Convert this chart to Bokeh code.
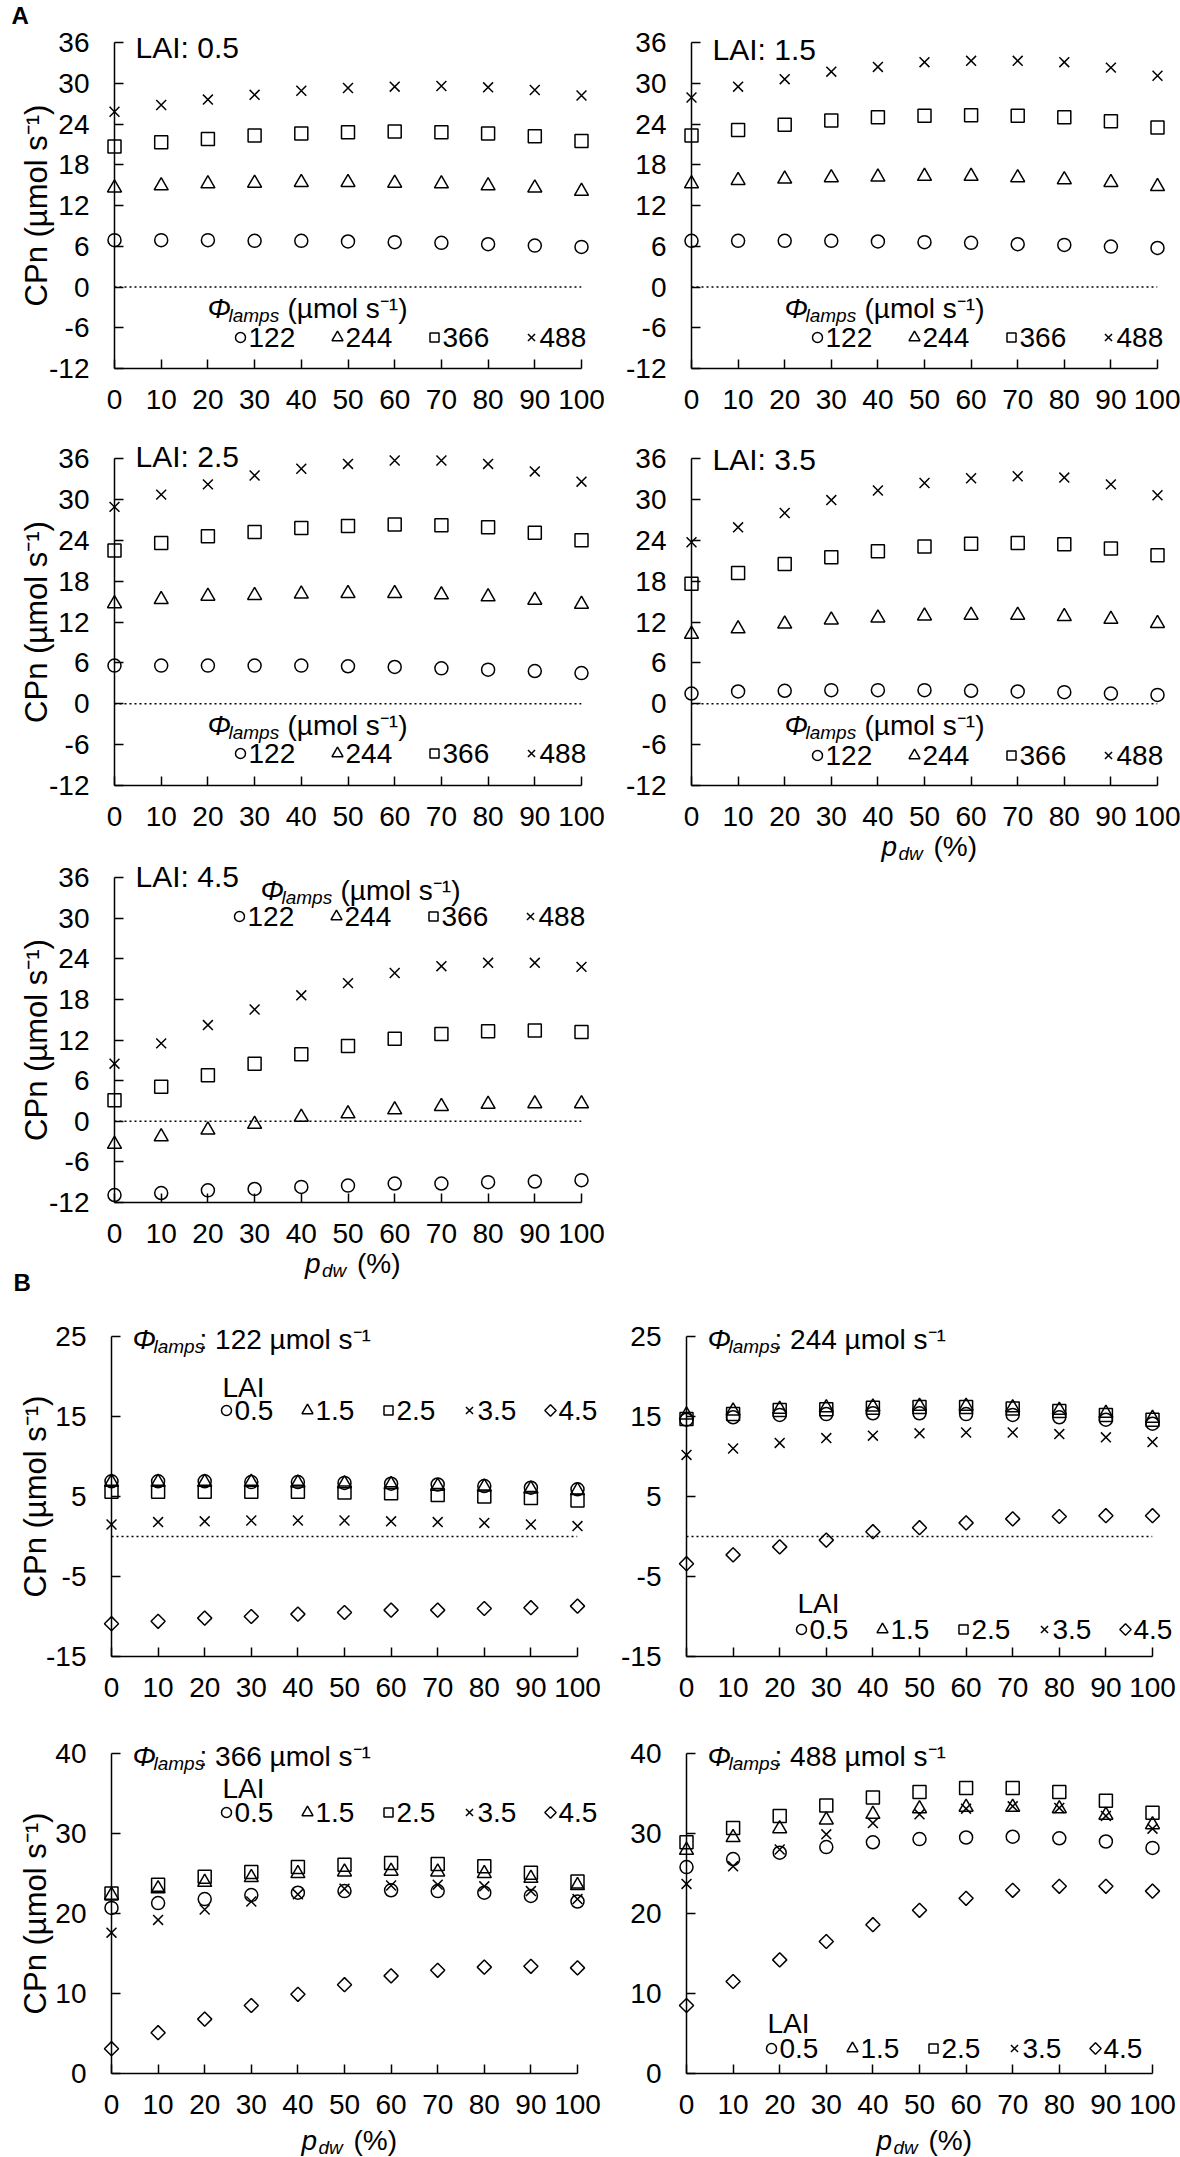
import math
from bokeh.plotting import figure
from bokeh.models import Range1d, FixedTicker, Span
from bokeh.layouts import column, row
from bokeh.core.properties import value
from bokeh.embed import file_html
from bokeh.resources import INLINE

FONT = "Liberation Sans"

# ---------------- data ----------------
p_dw = [0, 10, 20, 30, 40, 50, 60, 70, 80, 90, 100]

lamp_labels = ["122", "244", "366", "488"]
lai_labels = ["0.5", "1.5", "2.5", "3.5", "4.5"]

# CPn (umol s-1) for each LAI and lamp flux
c05_122 = [6.9, 6.9, 6.9, 6.8, 6.8, 6.7, 6.6, 6.5, 6.3, 6.1, 5.9]
c05_244 = [14.6, 14.9, 15.2, 15.3, 15.4, 15.4, 15.3, 15.2, 14.9, 14.6, 14.1]
c05_366 = [20.7, 21.3, 21.8, 22.3, 22.6, 22.8, 22.9, 22.8, 22.6, 22.2, 21.5]
c05_488 = [25.8, 26.8, 27.6, 28.3, 28.9, 29.3, 29.5, 29.6, 29.4, 29.0, 28.2]

c15_122 = [6.8, 6.8, 6.8, 6.8, 6.7, 6.6, 6.5, 6.3, 6.2, 5.95, 5.75]
c15_244 = [15.2, 15.7, 15.9, 16.1, 16.2, 16.3, 16.3, 16.1, 15.8, 15.4, 14.8]
c15_366 = [22.3, 23.1, 23.9, 24.5, 25.0, 25.2, 25.3, 25.2, 25.0, 24.4, 23.5]
c15_488 = [27.9, 29.5, 30.6, 31.7, 32.4, 33.1, 33.3, 33.3, 33.1, 32.3, 31.1]

c25_122 = [5.6, 5.6, 5.6, 5.6, 5.6, 5.5, 5.4, 5.2, 5.0, 4.8, 4.5]
c25_244 = [14.7, 15.3, 15.8, 15.9, 16.1, 16.2, 16.2, 16.0, 15.7, 15.2, 14.6]
c25_366 = [22.5, 23.6, 24.6, 25.2, 25.8, 26.1, 26.3, 26.2, 25.9, 25.1, 24.0]
c25_488 = [28.9, 30.7, 32.2, 33.5, 34.5, 35.2, 35.7, 35.7, 35.2, 34.1, 32.6]

c35_122 = [1.5, 1.8, 1.9, 2.0, 2.0, 2.0, 1.9, 1.8, 1.7, 1.5, 1.3]
c35_244 = [10.2, 11.0, 11.7, 12.3, 12.6, 12.9, 13.0, 13.0, 12.8, 12.4, 11.8]
c35_366 = [17.6, 19.2, 20.5, 21.5, 22.4, 23.1, 23.5, 23.6, 23.4, 22.8, 21.8]
c35_488 = [23.7, 25.9, 28.0, 29.9, 31.3, 32.4, 33.1, 33.4, 33.2, 32.2, 30.6]

c45_122 = [-10.9, -10.6, -10.2, -10.0, -9.7, -9.5, -9.2, -9.2, -9.0, -8.9, -8.7]
c45_244 = [-3.4, -2.3, -1.3, -0.45, 0.6, 1.1, 1.7, 2.2, 2.5, 2.6, 2.6]
c45_366 = [3.1, 5.1, 6.8, 8.5, 9.9, 11.1, 12.2, 12.9, 13.3, 13.4, 13.2]
c45_488 = [8.5, 11.5, 14.2, 16.5, 18.6, 20.4, 21.9, 22.9, 23.4, 23.4, 22.8]

a_yticks = [-12, -6, 0, 6, 12, 18, 24, 30, 36]
b_top_yticks = [-15, -5, 5, 15, 25]
b_bot_yticks = [0, 10, 20, 30, 40]

by_lai = {
    "0.5": [c05_122, c05_244, c05_366, c05_488],
    "1.5": [c15_122, c15_244, c15_366, c15_488],
    "2.5": [c25_122, c25_244, c25_366, c25_488],
    "3.5": [c35_122, c35_244, c35_366, c35_488],
    "4.5": [c45_122, c45_244, c45_366, c45_488],
}

# ---------------- styling helpers ----------------
MK = [
    dict(marker="circle", size=13),
    dict(marker="triangle", size=14),
    dict(marker="square", size=13),
    dict(marker="x", size=14),
    dict(marker="square", size=10, angle=math.pi / 4),
]
MK_LEG = [
    dict(marker="circle", size=10),
    dict(marker="triangle", size=11),
    dict(marker="square", size=9),
    dict(marker="x", size=10),
    dict(marker="square", size=8, angle=math.pi / 4),
]


def make_panel(fw, fh, bl, br, bt, bb, yr, yticks):
    p = figure(width=bl + fw + br, height=bt + fh + bb,
               frame_width=fw, frame_height=fh,
               min_border_left=bl, min_border_right=br,
               min_border_top=bt, min_border_bottom=bb,
               x_range=Range1d(0, 100), y_range=Range1d(*yr),
               output_backend="svg", toolbar_location=None, tools="")
    p.outline_line_color = None
    p.grid.visible = False
    p.background_fill_color = "white"
    p.border_fill_color = "white"
    p.xaxis.ticker = FixedTicker(ticks=p_dw)
    p.yaxis.ticker = FixedTicker(ticks=yticks)
    p.xaxis.major_label_overrides = {t: str(t) for t in p_dw}
    p.yaxis.major_label_overrides = {t: str(t) for t in yticks}
    for ax in (p.xaxis[0], p.yaxis[0]):
        ax.major_tick_in = 9
        ax.major_tick_out = 0
        ax.minor_tick_line_color = None
        ax.axis_line_width = 1.5
        ax.axis_line_color = "black"
        ax.major_tick_line_width = 1.5
        ax.major_tick_line_color = "black"
        ax.major_label_text_font = FONT
        ax.major_label_text_font_size = "28px"
        ax.major_label_text_color = "black"
    p.xaxis.major_label_standoff = 21
    p.yaxis.major_label_standoff = 25
    return p


def frame_to_data(p, rx, ry):
    """frame-relative pixel position (x from left, y from bottom) -> data"""
    x0, x1 = p.x_range.start, p.x_range.end
    y0, y1 = p.y_range.start, p.y_range.end
    return (x0 + rx * (x1 - x0) / p.frame_width,
            y0 + ry * (y1 - y0) / p.frame_height)


def txt(p, rx, ry, s, size=28, style="normal", align="left",
        baseline="alphabetic", angle=0.0):
    # ry given as a baseline is converted to the text's middle
    if baseline == "alphabetic":
        ry = ry + 0.36 * size
    xc = (p.x_range.start + p.x_range.end) / 2
    yc = (p.y_range.start + p.y_range.end) / 2
    p.text(x=[xc], y=[yc], text=[s],
           x_offset=rx - p.frame_width / 2, y_offset=-(ry - p.frame_height / 2),
           text_font=value(FONT), text_font_size=value(f"{size}px"),
           text_font_style=style, text_align=align, text_baseline="middle",
           angle=angle, text_color="black", level="overlay")


def phi_title(p, x, y, rest, rest_dx):
    txt(p, x, y, "Φ", 28, "italic")
    txt(p, x + 21, y - 4, "lamps", 19, "italic")
    txt(p, x + rest_dx, y, rest, 28)


def pdw_label(p, y=-71):
    c = p.frame_width / 2
    txt(p, c - 43, y, "p", 28, "italic")
    txt(p, c - 26, y - 4, "dw", 19, "italic")
    txt(p, c + 9, y, "(%)", 28)


def ylab(p, dx=-78):
    txt(p, dx, p.frame_height / 2, "CPn (µmol s⁻¹)", 31, align="center",
        baseline="middle", angle=math.pi / 2)


def add_series(p, series, markers):
    for ys, mk in zip(series, markers):
        p.scatter(p_dw, ys, fill_color=None, line_color="black",
                  line_width=1.5, level="overlay", **mk)


def add_key(p, labels, markers, cx, cy, period):
    for i, (lab, mk) in enumerate(zip(labels, markers)):
        mx, my = frame_to_data(p, cx + i * period, cy)
        p.scatter([mx], [my], fill_color=None, line_color="black",
                  line_width=1.5, level="overlay", **mk)
        txt(p, cx + i * period + 8, cy, lab, 28, baseline="middle")


def zero_line(p):
    p.add_layout(Span(location=0, dimension="width", line_color="black",
                      line_width=1.5, line_dash="2 3"))


# ---------------- panel A ----------------
LEFT = dict(bl=114, fw=467, br=31)
RIGHT = dict(bl=79, fw=466, br=23)

# (lai, column, borders top/frame/bottom, LAI-label drop, key row centre)
specs_a = [
    ("0.5", LEFT, dict(bt=42, fh=326, bb=62), 16, 31),
    ("1.5", RIGHT, dict(bt=42, fh=326, bb=62), 18, 31),
    ("2.5", LEFT, dict(bt=28, fh=327, bb=70), 9, 32),
    ("3.5", RIGHT, dict(bt=28, fh=327, bb=90), 12, 30),
    ("4.5", LEFT, dict(bt=22, fh=325, bb=98), 10, None),
]

panels_a = []
for lai, col, rw, lai_dy, row_c in specs_a:
    p = make_panel(col["fw"], rw["fh"], col["bl"], col["br"], rw["bt"], rw["bb"],
                   (-12, 36), a_yticks)
    zero_line(p)
    fh = rw["fh"]
    add_series(p, by_lai[lai], MK[:4])
    if row_c is None:  # key at the top (LAI 4.5)
        add_key(p, lamp_labels, MK_LEG[:4], 125, fh - 39, 97)
        phi_title(p, 146, fh - 23, "(µmol s⁻¹)", 80)
    else:
        add_key(p, lamp_labels, MK_LEG[:4], 126, row_c, 97)
        phi_title(p, 93, 50, "(µmol s⁻¹)", 80)
    txt(p, 21, fh - lai_dy, f"LAI: {lai}", 30)
    if col is LEFT:
        ylab(p)
    if lai in ("3.5", "4.5"):
        pdw_label(p)
    panels_a.append(p)

txt(panels_a[0], -103, 326 + 18, "A", 24, "bold")
txt(panels_a[4], -101, -89, "B", 24, "bold")

# ---------------- panel B ----------------
LEFT_B = dict(bl=111, fw=466, br=35)
RIGHT_B = dict(bl=74, fw=466, br=28)
ROWS_B = [dict(bt=36, fh=320, bb=62), dict(bt=35, fh=320, bb=84)]

specs_b = [
    (0, LEFT_B, ROWS_B[0], (-15, 25), b_top_yticks, 115, 246, 259),
    (1, RIGHT_B, ROWS_B[0], (-15, 25), b_top_yticks, 115, 27, 43),
    (2, LEFT_B, ROWS_B[1], (0, 40), b_bot_yticks, 115, 261, 275),
    (3, RIGHT_B, ROWS_B[1], (0, 40), b_bot_yticks, 85, 25, 40),
]

panels_b = []
for li, col, rw, yr, yt, cx, row_c, lai_y in specs_b:
    p = make_panel(col["fw"], rw["fh"], col["bl"], col["br"], rw["bt"], rw["bb"],
                   yr, yt)
    if yr[0] < 0:
        zero_line(p)
    fh = rw["fh"]
    series = [by_lai[l][li] for l in lai_labels]
    add_series(p, series, MK)
    add_key(p, lai_labels, MK_LEG, cx, row_c, 81)
    txt(p, cx - 4, lai_y, "LAI", 28)
    phi_title(p, 21, fh - 13, f": {lamp_labels[li]} µmol s⁻¹", 67)
    if col is LEFT_B:
        ylab(p, -76)
    if li >= 2:
        pdw_label(p, -77)
    panels_b.append(p)

layout = column(
    row(column(panels_a[0], panels_a[2], panels_a[4]),
        column(panels_a[1], panels_a[3])),
    row(panels_b[0], panels_b[1]),
    row(panels_b[2], panels_b[3]),
)

open("out.html", "w").write(file_html(layout, INLINE))
